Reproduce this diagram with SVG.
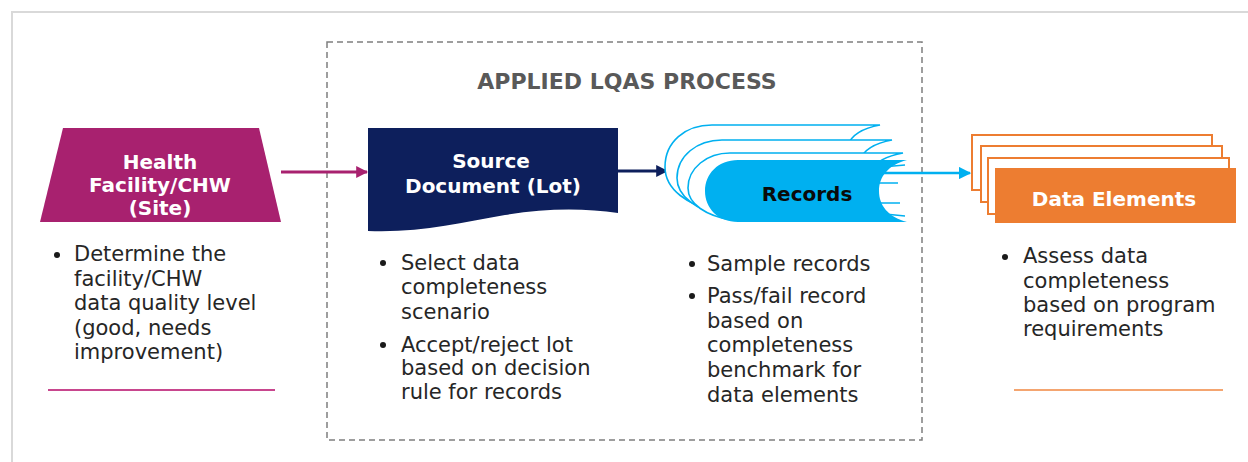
<svg xmlns="http://www.w3.org/2000/svg" width="1248" height="462" viewBox="0 0 1248 462">
<style>
.lbl{font-family:"DejaVu Sans",sans-serif;font-weight:bold;font-size:20px;text-anchor:middle}
.w{fill:#ffffff}
.body{font-family:"DejaVu Sans",sans-serif;font-size:21px;fill:#262626}
.bul{fill:#1a1a1a}
.title{font-family:"DejaVu Sans",sans-serif;font-weight:bold;font-size:22px;fill:#595959;text-anchor:middle}
.rec{fill:#ffffff;stroke:#00B0F0;stroke-width:1.6}
.de{fill:#ffffff;stroke:#ED7D31;stroke-width:2}
</style>
<defs>
<marker id="am" viewBox="0 0 10 10" refX="9" refY="5" markerWidth="4" markerHeight="4" orient="auto" markerUnits="strokeWidth"><path d="M0,0 L10,5 L0,10 Z" fill="#A8216F"/></marker>
<marker id="an" viewBox="0 0 10 10" refX="9" refY="5" markerWidth="4" markerHeight="4" orient="auto" markerUnits="strokeWidth"><path d="M0,0 L10,5 L0,10 Z" fill="#0D1F5C"/></marker>
<marker id="ac" viewBox="0 0 10 10" refX="9" refY="5" markerWidth="5" markerHeight="5" orient="auto" markerUnits="strokeWidth"><path d="M0,0 L10,5 L0,10 Z" fill="#00B0F0"/></marker>
</defs>
<rect x="0" y="0" width="1248" height="462" fill="#ffffff"/>
<rect x="12" y="12" width="1260" height="470" fill="none" stroke="#D9D9D9" stroke-width="2"/>
<g id="process-frame">
<rect x="327" y="42" width="595" height="398" fill="none" stroke="#7F7F7F" stroke-width="1.5" stroke-dasharray="6 4"/>
<text class="title" x="627" y="89">APPLIED LQAS PROCESS</text>
</g>
<g id="connectors">
<line x1="281" y1="172" x2="367" y2="172" stroke="#A8216F" stroke-width="3" marker-end="url(#am)"/>
<line x1="618" y1="171" x2="667" y2="171" stroke="#0D1F5C" stroke-width="3" marker-end="url(#an)"/>
<line x1="883" y1="173" x2="970" y2="173" stroke="#00B0F0" stroke-width="2.5" marker-end="url(#ac)"/>
</g>
<g id="site">
<polygon points="63,128 259,128 281,222 40,222" fill="#A8216F"/>
<text class="lbl w" x="160" y="169">Health</text>
<text class="lbl w" x="160" y="192">Facility/CHW</text>
<text class="lbl w" x="160" y="215">(Site)</text>
<circle class="bul" cx="57" cy="255" r="3"/>
<text class="body"><tspan x="74" y="261">Determine the</tspan><tspan x="74" y="285.5">facility/CHW</tspan><tspan x="74" y="310">data quality level</tspan><tspan x="74" y="334.5">(good, needs</tspan><tspan x="74" y="359">improvement)</tspan></text>
<line x1="48" y1="390" x2="275" y2="390" stroke="#C8468E" stroke-width="2"/>
</g>
<g id="source-document">
<path d="M368,128 H618 V213 C585,208 545,208 505,215 C460,223 420,233 368,231 Z" fill="#0D1F5C"/>
<text class="lbl w" x="491" y="168">Source</text>
<text class="lbl w" x="493" y="193">Document (Lot)</text>
<circle class="bul" cx="383" cy="263" r="3"/>
<text class="body"><tspan x="401" y="270">Select data</tspan><tspan x="401" y="294">completeness</tspan><tspan x="401" y="318.5">scenario</tspan></text>
<circle class="bul" cx="383" cy="345" r="3"/>
<text class="body"><tspan x="401" y="351.5">Accept/reject lot</tspan><tspan x="401" y="375">based on decision</tspan><tspan x="401" y="399">rule for records</tspan></text>
</g>
<g id="records">
<path class="rec" d="M712,125 H880 C864,128 852,134 848,145 L848,205 L718,212 C688,205 665,190 665,167 C665,142 685,125 712,125 Z"/>
<path class="rec" d="M722,140 H892 C876,143 864,149 860,160 L860,212 L724,216 C696,210 677,196 677,178 C677,156 697,140 722,140 Z"/>
<path class="rec" d="M730,153 H903 C887,156 876,161 872,170 L872,216 L732,220 C706,216 688,204 688,188 C688,168 707,153 730,153 Z"/>
<path d="M738,160 H907 C888,165 879,177 879,191 C879,205 888,217 907,222 H738 C718,222 705,208 705,191 C705,174 718,160 738,160 Z" fill="#00B0F0"/>
<g stroke="#00B0F0" stroke-width="1.5">
<line x1="882" y1="167" x2="905" y2="165"/>
<line x1="879" y1="183" x2="898" y2="183"/>
<line x1="880" y1="203" x2="900" y2="203"/>
<line x1="885" y1="214" x2="905" y2="216"/>
</g>
<text class="lbl" x="807" y="201" fill="#0a0a0a">Records</text>
<circle class="bul" cx="692" cy="264" r="3"/>
<text class="body"><tspan x="707" y="271">Sample records</tspan></text>
<circle class="bul" cx="692" cy="296" r="3"/>
<text class="body"><tspan x="707" y="303">Pass/fail record</tspan><tspan x="707" y="327.5">based on</tspan><tspan x="707" y="352">completeness</tspan><tspan x="707" y="377">benchmark for</tspan><tspan x="707" y="401.5">data elements</tspan></text>
</g>
<g id="data-elements">
<rect class="de" x="972" y="135" width="240" height="55"/>
<rect class="de" x="981" y="146" width="241" height="56"/>
<rect class="de" x="988" y="158" width="241" height="56"/>
<rect x="995" y="168" width="241" height="55" fill="#ED7D31"/>
<text class="lbl w" x="1114" y="206">Data Elements</text>
<circle class="bul" cx="1005" cy="257" r="3"/>
<text class="body"><tspan x="1023" y="263">Assess data</tspan><tspan x="1023" y="287.5">completeness</tspan><tspan x="1023" y="312">based on program</tspan><tspan x="1023" y="336">requirements</tspan></text>
<line x1="1014" y1="390" x2="1223" y2="390" stroke="#F4A570" stroke-width="2"/>
</g>
</svg>
